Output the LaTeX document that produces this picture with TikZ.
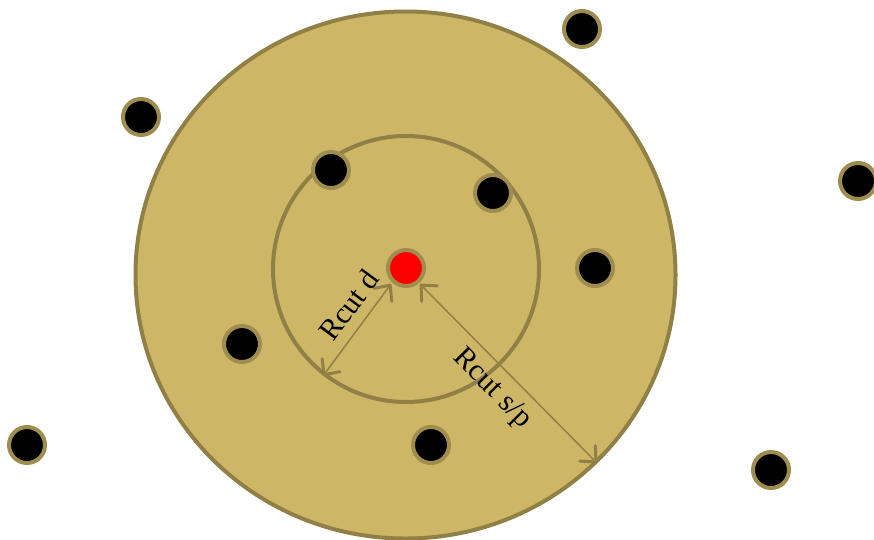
\documentclass[tikz,border=0pt]{standalone}
\usepackage{fontspec}
\setmainfont{Liberation Serif}
\usetikzlibrary{arrows.meta}
\definecolor{sand}{HTML}{CDB767}
\definecolor{rim}{HTML}{918046}
\definecolor{dotrim}{HTML}{9E8D4F}
\tikzset{
  atom/.style={circle, fill=black, draw=dotrim, line width=4pt, minimum size=36pt, inner sep=0pt},
  center/.style={circle, fill=red, draw=dotrim, line width=4pt, minimum size=36pt, inner sep=0pt},
  zone/.style={draw=rim, line width=4pt},
  barb/.tip={Straight Barb[length=12pt,width=22pt,line width=3pt 0 0,round]},
  radius arrow/.style={draw=rim, line width=1.5pt, barb-barb},
  lab/.style={font=\fontsize{30}{32}\selectfont, inner sep=1pt}
}
\begin{document}
\begin{tikzpicture}[x=1pt,y=-1pt]
\useasboundingbox (0,0) rectangle (874,539);
\clip (0,0) rectangle (874,539);
\fill[white] (0,0) rectangle (874,539);
\draw[zone, fill=sand] (405.5,275) ellipse[x radius=270, y radius=263.5];
\draw[zone] (406,269) circle[radius=133];
\node[center] (c) at (406,268) {};
\node[atom] (a1) at (582,29) {};
\node[atom] (a2) at (141,117) {};
\node[atom] (a3) at (331,170) {};
\node[atom] (a4) at (493,193) {};
\node[atom] (a5) at (858,181) {};
\node[atom] (a6) at (595,268) {};
\node[atom] (a7) at (242,344) {};
\node[atom] (a8) at (27,445) {};
\node[atom] (a9) at (431,445) {};
\node[atom] (a10) at (771,470) {};
\coordinate (d0) at (391,284);
\coordinate (d1) at (323,376);
\coordinate (s0) at (420,284);
\coordinate (s1) at (597,463);
\draw[radius arrow] (d0) -- (d1);
\draw[radius arrow] (s0) -- (s1);
\node[lab, rotate=53.5] (ld) at (349,305) {Rcut d};
\node[lab, rotate=-45.3] (ls) at (492,389) {Rcut s/p};
\end{tikzpicture}
\end{document}
